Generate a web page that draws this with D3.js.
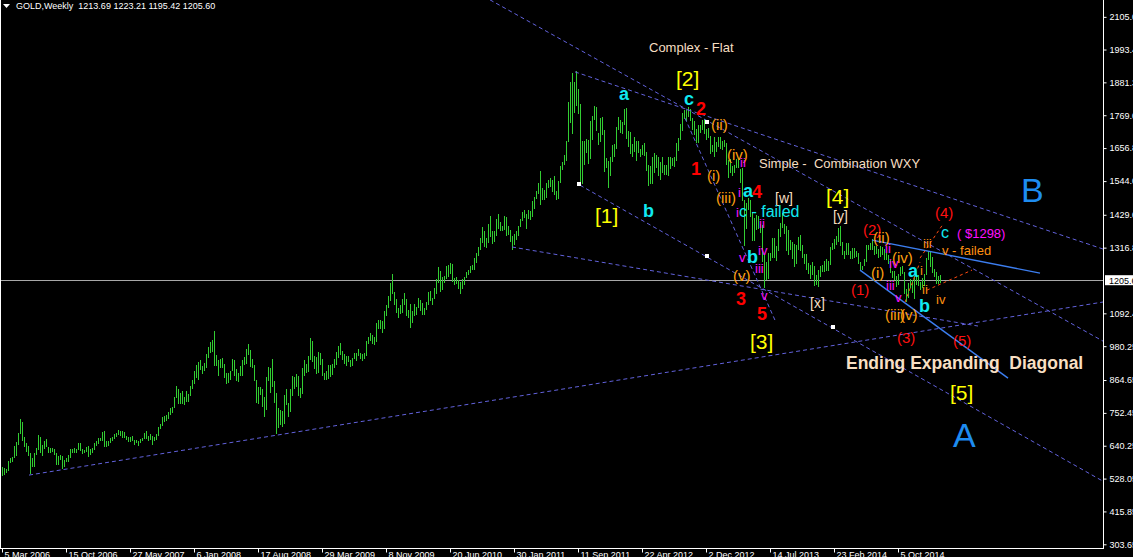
<!DOCTYPE html>
<html><head><meta charset="utf-8">
<script src="https://cdn.jsdelivr.net/npm/d3@7"></script>
<style>
html,body{margin:0;padding:0;background:#000;overflow:hidden}
svg{display:block}
text{white-space:pre}
</style></head><body>
<svg id="c" width="1133" height="557"></svg>
<script>
// ---- DATA ----
const titleText = "GOLD,Weekly  1213.69 1223.21 1195.42 1205.60";
const lastPrice = 1205.60;
// weekly highs / lows, week 0 = 5 Mar 2006
const weekHigh = [
567,563,562,587,598,602,641,654,683,730,
722,670,651,638,617,600,616,634,676,671,
643,655,663,637,634,633,630,616,604,608,
605,590,598,607,630,630,632,630,649,648,
630,625,637,638,
628,634,651,655,668,667,
686,690,656,656,665,669,680,683,693,689,
690,687,675,670,669,675,660,660,655,663,
668,683,690,674,681,674,669,681,704,716,
739,743,744,756,770,773,808,845,834,819,
826,807,827,817,845,866,
897,915,926,933,
914,924,953,977,993,1003,1032,950,934,937,
939,918,889,888,897,935,932,904,888,911,
933,944,970,989,966,935,915,865,840,840,
835,808,875,908,905,935,863,820,768,762,
760,812,835,785,835,880,875,884,
880,838,
905,933,920,948,1007,998,945,942,961,958,
935,889,897,915,915,921,935,961,982,990,
965,952,947,946,932,941,958,958,970,958,
955,958,999,1012,1025,1019,1011,1061,1071,1070,
1066,1101,1120,1150,1195,1227,1166,1142,1110,1120,
1140,1161,1143,1103,1123,1101,1124,1115,1144,1138,
1127,1110,1132,1164,1170,1145,1180,1210,1249,1238,
1215,1220,1254,1259,1265,1262,1214,1215,1205,1200,
1208,1215,1235,1241,1254,1259,1280,1300,1320,1349,
1387,1373,1350,1398,1424,1375,1375,1415,1432,1405,
1391,1424,1423,1392,1376,1357,1365,1373,1390,1416,
1440,1445,1432,1447,1443,1475,1489,1509,1536,1577,
1522,1512,1538,1549,1553,1548,1560,1511,1544,1595,
1610,1632,1682,1815,1881,1913,1883,1921,1860,1808,
1680,1682,1688,1684,1748,1768,1802,1797,1708,1761,
1764,1718,1622,1612,1628,1667,1672,1730,1763,1753,
1745,1790,1792,1715,1713,1672,1693,1680,1680,1655,
1669,1675,1645,1598,1596,1627,1641,1633,1628,1608,
1627,1600,1598,1627,1628,1624,1626,1675,1692,1740,
1777,1787,1787,1796,1790,1760,1748,1722,1737,1734,
1752,1755,1723,1725,1698,1669,1694,
1679,1695,1696,
1681,1684,1675,1615,1620,1596,1600,1618,1616,1587,
1590,1480,1470,1488,1479,1440,1418,1428,1424,1398,
1394,1290,1268,1299,1298,1348,1348,1324,1380,1400,
1434,1396,1391,1376,1344,1336,1328,1326,1353,1361,
1325,1295,1295,1264,1257,1268,1254,1223,1239,
1255,1256,1270,1279,1272,1320,1332,1345,1355,1385,1392,
1337,1305,1331,1332,1306,1315,1316,1306,1300,1267,
1255,1278,1325,1326,1332,1345,1322,1321,1311,1322,
1320,1311,1298,1291,1276,1238,1236,1220,1226,1249,
1255,1234,1177,1195,1208,1207,1221,1238,1222,1201,
1213,1227,1282,1307,1305,1284,1243,1232,1220,1223.21
];
const weekLow = [
536,541,548,553,580,586,598,606,644,679,
656,635,620,606,543,566,567,608,626,614,
605,630,636,615,614,620,610,575,573,591,
560,568,584,585,600,614,614,617,626,622,
612,614,619,602,
607,617,626,640,646,656,
658,636,637,640,651,657,662,670,676,672,
667,665,661,652,653,655,644,651,640,648,
657,664,664,658,659,642,655,660,672,696,
709,720,723,731,746,752,770,804,782,783,
782,780,789,788,809,834,
850,873,864,900,
885,895,905,940,958,962,913,914,877,905,
905,871,850,856,865,895,880,861,858,879,
880,915,918,950,910,905,861,786,783,812,
774,740,762,860,822,840,786,681,700,710,
705,713,780,740,757,810,835,842,
810,802,
817,880,890,893,934,926,903,885,887,915,
880,865,864,869,876,883,907,917,941,950,
932,919,913,925,908,912,936,928,945,935,
930,936,946,988,997,988,983,995,1040,1040,
1025,1040,1085,1110,1135,1160,1120,1094,1075,1089,
1093,1122,1085,1075,1044,1060,1085,1086,1110,1100,
1086,1088,1104,1120,1134,1120,1140,1160,1195,1166,
1171,1195,1210,1218,1226,1200,1189,1193,1177,1157,
1175,1190,1212,1222,1231,1240,1241,1266,1288,1308,
1333,1318,1316,1331,1352,1330,1337,1355,1380,1375,
1372,1376,1355,1359,1337,1308,1325,1342,1356,1386,
1407,1418,1381,1415,1411,1423,1450,1482,1500,1462,
1478,1481,1487,1522,1523,1508,1496,1478,1483,1539,
1583,1598,1611,1676,1741,1705,1776,1800,1772,1532,
1535,1600,1640,1603,1618,1684,1751,1715,1667,1677,
1700,1576,1590,1522,1562,1610,1627,1655,1718,1710,
1705,1735,1688,1660,1635,1627,1645,1612,1640,1627,
1632,1630,1578,1527,1535,1533,1570,1588,1563,1548,
1571,1564,1566,1562,1586,1596,1593,1613,1648,1685,
1715,1755,1750,1763,1750,1718,1700,1675,1673,1707,
1720,1705,1684,1690,1635,1645,1625,
1645,1660,1655,
1651,1659,1600,1554,1572,1562,1570,1590,1590,1539,
1476,1321,1381,1446,1423,1338,1339,1376,1380,1366,
1268,1180,1207,1210,1271,1282,1282,1271,1306,1354,
1385,1362,1306,1293,1310,1277,1251,1262,1308,1307,
1281,1262,1241,1227,1211,1222,1185,1190,1182,
1218,1232,1234,1238,1238,1258,1310,1312,1325,1335,1321,
1290,1277,1293,1291,1278,1277,1283,1284,1262,1241,
1240,1253,1268,1310,1310,1309,1292,1294,1281,1284,
1292,1273,1275,1262,1229,1212,1206,1183,1190,1221,
1228,1160,1131,1146,1180,1163,1142,1190,1187,1171,
1179,1186,1222,1274,1251,1231,1216,1192,1191,1195.42
];
const yTickValues = [303.65,415.85,528.05,640.25,752.45,864.65,980.25,1092.4,1316.8,1429.0,1544.0,1656.8,1769.0,1881.3,1993.4,2105.0];
const yTickLabels = ["303.65","415.85","528.05","640.25","752.45","864.65","980.25","1092.40","1316.80","1429.00","1544.00","1656.80","1769.00","1881.30","1993.40","2105.00"];
const xTickWeeks = [0,32,64,96,128,160,192,224,256,288,320,352,384,416,448];
const xTickLabels = ["5 Mar 2006","15 Oct 2006","27 May 2007","6 Jan 2008","17 Aug 2008","29 Mar 2009","8 Nov 2009","20 Jun 2010","30 Jan 2011","11 Sep 2011","22 Apr 2012","2 Dec 2012","14 Jul 2013","23 Feb 2014","5 Oct 2014"];
// trend lines: [week1, price1, week2, price2]
const dottedLines = [
  [13.5,540, 550.5,1131],
  [244,2163, 550.5,997.5],
  [286.5,1917, 550.5,1312],
  [289,1530, 550.5,519],
  [255,1319, 488,1049],
  [341.5,1759, 386.5,1069]
];
const solidLines = [
  [435,1342.6, 519,1229.8],
  [429,1240.1, 503,871.1]
];
const projLines = [
  [451.5,1130.7, 459,1267.4],
  [459,1281, 470.5,1397],
  [462.5,1171.7, 485,1240.1]
];
const markers = [[288.5,1534],[352.5,1745.7],[352.5,1287.9],[415.5,1045.3]];
// annotations: [week, price(baseline), text, style]
const notes = [
  [323.5,1985,"Complex - Flat","wheat"],
  [337,1869,"[2]","yellow"],
  [308.5,1821,"a","cyanB"],
  [341,1804,"c","cyanB"],
  [347,1770,"2","redB"],
  [354.5,1718,"(ii)","orange"],
  [362.5,1616,"(iv)","orange"],
  [344.5,1565,"1","redB"],
  [352.5,1544,"(i)","orange"],
  [378.5,1589,"Simple -  Combination WXY","wheat"],
  [357,1469,"(iii)","orange"],
  [368,1490,"i","mag"],
  [370.5,1490,"a","cyanB"],
  [375,1486,"4","redB"],
  [386.5,1469,"[w]","wheatS"],
  [412,1465,"[4]","yellow"],
  [296.5,1401,"[1]","yellow"],
  [320.5,1421,"b","cyanB"],
  [367,1421,"i","mag"],
  [368.5,1421,"c - failed","cyan"],
  [415.5,1407,"[y]","wheatS"],
  [378.5,1383,"ii","mag"],
  [369,1592,"ii","mag"],
  [378,1291,"iv","mag"],
  [368.5,1267,"v","mag"],
  [372.5,1264,"b","cyanB"],
  [376.5,1230,"iii","mag"],
  [365.5,1202,"(v)","orange"],
  [367,1120,"3","redB"],
  [379.5,1137,"v","mag"],
  [377.5,1069,"5","redB"],
  [404,1110,"[x]","wheatS"],
  [374,970,"[3]","yellow"],
  [430.5,1360,"(2)","red"],
  [435.5,1332,"(ii)","orange"],
  [441.5,1298,"ii","mag"],
  [445,1264,"(iv)","orange"],
  [434.5,1213,"(i)","orange"],
  [443.5,1247,"iv","mag"],
  [453,1216,"a","cyanB"],
  [424.5,1155,"(1)","red"],
  [442,1172,"iii","mag"],
  [446.5,1131,"v","mag"],
  [458.5,1097,"b","cyanB"],
  [441.5,1069,"(iii)","orange"],
  [449,1069,"(v)","orange"],
  [447.5,991,"(3)","red"],
  [475.5,980,"(5)","red"],
  [466.5,1418,"(4)","red"],
  [469.5,1349,"c","cyan"],
  [477.5,1349,"( $1298)","magL"],
  [460.5,1315,"iii","orangeS"],
  [470,1291,"v - failed","orangeS"],
  [459,1223,"i","orangeS"],
  [460,1160,"ii","orangeS"],
  [467,1124,"iv","orangeS"],
  [422,902,"Ending Expanding  Diagonal","wheatB"],
  [474,796,"[5]","yellow"],
  [475.5,635,"A","blue"],
  [509.5,1472,"B","blue"]
];
// ---- STYLES ----
const FONT = "'Liberation Sans', Arial, sans-serif";
const styles = {
  wheat:  {fill:"#f7dfc2", size:13, weight:"normal"},
  wheatS: {fill:"#f7dfc2", size:14, weight:"normal"},
  wheatB: {fill:"#f7dfc2", size:17.5, weight:"bold"},
  yellow: {fill:"#ffff00", size:21, weight:"normal"},
  cyanB:  {fill:"#10e8f0", size:18, weight:"bold"},
  cyan:   {fill:"#10e8f0", size:16, weight:"normal"},
  redB:   {fill:"#ff0000", size:18, weight:"bold"},
  red:    {fill:"#ff1010", size:15, weight:"normal"},
  orange: {fill:"#ffa010", size:15, weight:"normal"},
  orangeS:{fill:"#ff9010", size:13, weight:"normal"},
  mag:    {fill:"#ff10ff", size:13, weight:"normal"},
  magL:   {fill:"#ff10ff", size:13, weight:"normal"},
  blue:   {fill:"#1e8cf0", size:34, weight:"normal"}
};

const svg = d3.select("#c");
const W = 1133, H = 557, plotR = 1103, plotB = 548;
const x = d3.scaleLinear().domain([0, 550]).range([2, 1102]);
const y = d3.scaleLinear().domain([303.6, 2105.5]).range([544.3, 16.7]);

svg.append("rect").attr("width", W).attr("height", H).attr("fill", "#000");
svg.append("defs").append("clipPath").attr("id", "pc")
  .append("rect").attr("x", 0).attr("y", 0).attr("width", plotR).attr("height", plotB);
const g = svg.append("g").attr("clip-path", "url(#pc)");

// current price line
const yLast = Math.round(y(lastPrice)) + 0.5;
g.append("line").attr("x1", 0).attr("x2", plotR).attr("y1", yLast).attr("y2", yLast)
  .attr("stroke", "#a8a8a8").attr("stroke-width", 1);

// bars
g.append("g").selectAll("line").data(weekHigh).join("line")
  .attr("x1", (d, i) => Math.round(x(i)) + 0.5)
  .attr("x2", (d, i) => Math.round(x(i)) + 0.5)
  .attr("y1", d => y(d))
  .attr("y2", (d, i) => Math.max(y(weekLow[i]), y(d) + 1))
  .attr("stroke", "#32cd32").attr("stroke-width", 1).attr("shape-rendering", "crispEdges");

// dotted trend lines
g.append("g").selectAll("line").data(dottedLines).join("line")
  .attr("x1", d => x(d[0])).attr("y1", d => y(d[1]))
  .attr("x2", d => x(d[2])).attr("y2", d => y(d[3]))
  .attr("stroke", "#6262dc").attr("stroke-width", 1).attr("stroke-dasharray", "4,3");

// solid blue lines
g.append("g").selectAll("line").data(solidLines).join("line")
  .attr("x1", d => x(d[0])).attr("y1", d => y(d[1]))
  .attr("x2", d => x(d[2])).attr("y2", d => y(d[3]))
  .attr("stroke", "#3c7ef0").attr("stroke-width", 1.4);

// projection lines
g.append("g").selectAll("line").data(projLines).join("line")
  .attr("x1", d => x(d[0])).attr("y1", d => y(d[1]))
  .attr("x2", d => x(d[2])).attr("y2", d => y(d[3]))
  .attr("stroke", "#ff4a10").attr("stroke-width", 1).attr("stroke-dasharray", "3,3");

// markers
g.append("g").selectAll("rect").data(markers).join("rect")
  .attr("x", d => Math.round(x(d[0])) - 2).attr("y", d => Math.round(y(d[1])) - 2)
  .attr("width", 4).attr("height", 4).attr("fill", "#ffffff");

// annotations
g.append("g").selectAll("text").data(notes).join("text")
  .attr("x", d => x(d[0])).attr("y", d => y(d[1]))
  .attr("font-family", FONT)
  .attr("font-size", d => styles[d[3]].size)
  .attr("font-weight", d => styles[d[3]].weight)
  .attr("fill", d => styles[d[3]].fill)
  .text(d => d[2]);

// frame
svg.append("line").attr("x1", 0.5).attr("x2", 0.5).attr("y1", 0).attr("y2", plotB)
  .attr("stroke", "#ffffff");
svg.append("line").attr("x1", plotR + 0.5).attr("x2", plotR + 0.5).attr("y1", 0).attr("y2", plotB + 1)
  .attr("stroke", "#ffffff");
svg.append("line").attr("x1", 0).attr("x2", plotR + 1).attr("y1", plotB + 0.5).attr("y2", plotB + 0.5)
  .attr("stroke", "#ffffff");

// right axis
const ya = svg.append("g").attr("transform", `translate(${plotR + 0.5},0)`)
  .call(d3.axisRight(y).tickValues(yTickValues).tickFormat((d, i) => yTickLabels[i]).tickSize(3).tickPadding(3));
ya.select(".domain").remove();
ya.selectAll("line").attr("stroke", "#fff");
ya.selectAll("text").attr("fill", "#fff").attr("font-family", FONT).attr("font-size", 9);

// current price tag
const tag = svg.append("g").attr("transform", `translate(${plotR + 2},${y(lastPrice)})`);
tag.append("rect").attr("x", 0).attr("y", -5).attr("width", 40).attr("height", 10).attr("fill", "#fff");
tag.append("text").attr("x", 4).attr("y", 3.5).attr("fill", "#000")
  .attr("font-family", FONT).attr("font-size", 9).text(lastPrice.toFixed(2));

// bottom axis
const xa = svg.append("g").attr("transform", `translate(0,${plotB + 0.5})`)
  .call(d3.axisBottom(x).tickValues(xTickWeeks).tickFormat((d, i) => xTickLabels[i]).tickSize(4).tickPadding(-1));
xa.select(".domain").remove();
xa.selectAll("line").attr("stroke", "#fff");
xa.selectAll("text").attr("fill", "#fff").attr("font-family", FONT).attr("font-size", 9)
  .attr("text-anchor", "start").attr("dx", 2);

// title
svg.append("path").attr("d", "M3,4 L10,4 L6.5,8 Z").attr("fill", "#fff");
svg.append("text").attr("x", 16).attr("y", 9).attr("fill", "#fff")
  .attr("font-family", FONT).attr("font-size", 9).text(titleText);
</script>
</body></html>
